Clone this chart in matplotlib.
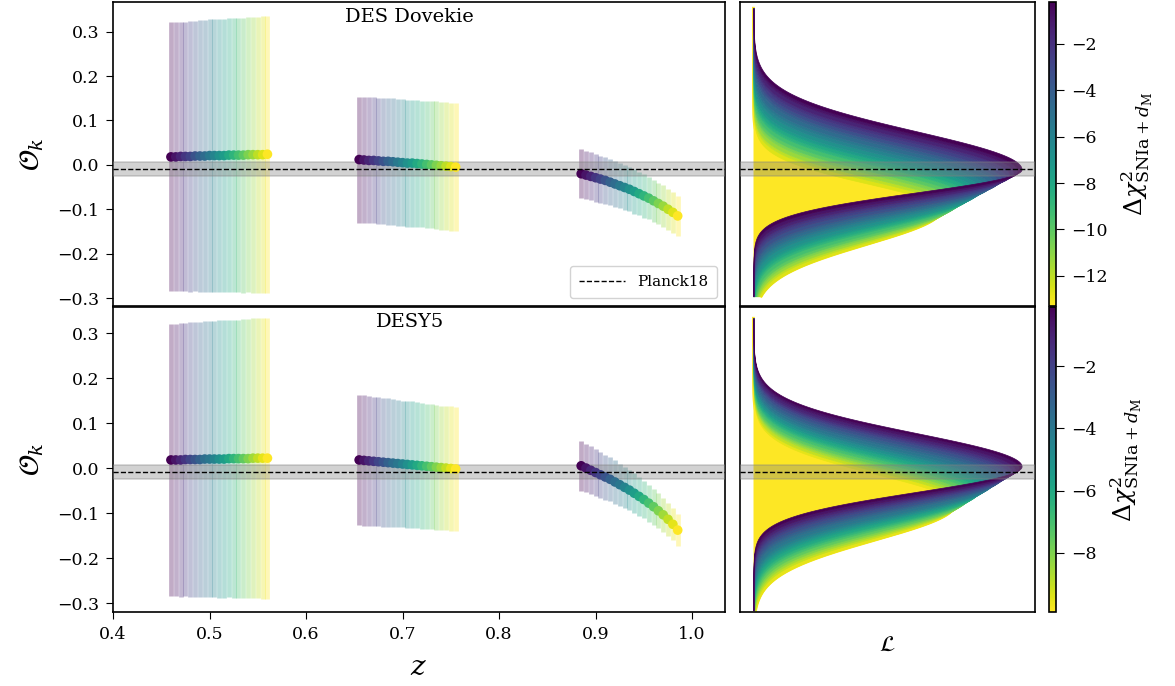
import numpy as np
import matplotlib.pyplot as plt
from matplotlib import colors as mcolors
from matplotlib.cm import ScalarMappable

plt.rcParams['font.family'] = 'DejaVu Serif'
plt.rcParams['mathtext.fontset'] = 'dejavuserif'

# ---- data ----
z_bins = [0.46, 0.655, 0.885]
shift = [0.000, 0.005, 0.010, 0.015, 0.020, 0.025, 0.030, 0.035, 0.040, 0.045, 0.050,
         0.055, 0.060, 0.065, 0.070, 0.075, 0.080, 0.085, 0.090, 0.095, 0.100]

# DES Dovekie
chi2_dov = [-0.2, -0.9, -1.5, -2.2, -2.8, -3.5, -4.2, -4.8, -5.5, -6.1, -6.8,
            -7.4, -8.1, -8.7, -9.4, -10.0, -10.7, -11.3, -12.0, -12.6, -13.3]
ok_dov_1 = [0.018, 0.018, 0.019, 0.019, 0.019, 0.020, 0.020, 0.020, 0.021, 0.021, 0.021,
            0.021, 0.022, 0.022, 0.022, 0.022, 0.023, 0.023, 0.023, 0.023, 0.024]
err_dov_1 = [0.303, 0.303, 0.304, 0.304, 0.305, 0.305, 0.306, 0.306, 0.307, 0.307, 0.308,
             0.308, 0.308, 0.309, 0.309, 0.310, 0.310, 0.311, 0.311, 0.312, 0.312]
ok_dov_2 = [0.012, 0.011, 0.010, 0.010, 0.009, 0.008, 0.008, 0.007, 0.006, 0.005, 0.004,
            0.004, 0.003, 0.002, 0.001, 0.000, -0.001, -0.002, -0.003, -0.004, -0.005]
err_dov_2 = [0.142, 0.142, 0.142, 0.142, 0.142, 0.142, 0.143, 0.143, 0.143, 0.143, 0.143,
             0.143, 0.143, 0.143, 0.143, 0.143, 0.144, 0.144, 0.144, 0.144, 0.144]
ok_dov_3 = [-0.020, -0.023, -0.026, -0.029, -0.032, -0.035, -0.039, -0.043, -0.047, -0.051, -0.055,
            -0.060, -0.065, -0.070, -0.075, -0.081, -0.087, -0.093, -0.100, -0.107, -0.115]
err_dov_3 = [0.055, 0.055, 0.054, 0.054, 0.053, 0.053, 0.052, 0.052, 0.051, 0.051, 0.050,
             0.050, 0.049, 0.049, 0.048, 0.048, 0.047, 0.047, 0.046, 0.046, 0.045]

# DESY5
chi2_y5 = [-0.1, -0.6, -1.1, -1.6, -2.1, -2.6, -3.1, -3.6, -4.0, -4.5, -5.0,
           -5.5, -6.0, -6.5, -7.0, -7.5, -8.0, -8.5, -9.0, -9.5, -9.9]
ok_y5_1 = [0.018, 0.018, 0.018, 0.019, 0.019, 0.019, 0.019, 0.020, 0.020, 0.020, 0.020,
           0.020, 0.021, 0.021, 0.021, 0.021, 0.021, 0.022, 0.022, 0.022, 0.022]
err_y5_1 = [0.303, 0.303, 0.304, 0.304, 0.305, 0.305, 0.306, 0.306, 0.307, 0.307, 0.308,
            0.308, 0.308, 0.309, 0.309, 0.310, 0.310, 0.311, 0.311, 0.312, 0.312]
ok_y5_2 = [0.018, 0.017, 0.016, 0.015, 0.014, 0.013, 0.012, 0.011, 0.010, 0.009, 0.008,
           0.007, 0.006, 0.005, 0.004, 0.003, 0.002, 0.001, 0.000, -0.001, -0.002]
err_y5_2 = [0.145, 0.145, 0.144, 0.144, 0.143, 0.143, 0.143, 0.142, 0.142, 0.141, 0.141,
            0.141, 0.140, 0.140, 0.139, 0.139, 0.139, 0.138, 0.138, 0.138, 0.137]
ok_y5_3 = [0.005, 0.000, -0.005, -0.010, -0.015, -0.020, -0.025, -0.031, -0.037, -0.043, -0.049,
           -0.056, -0.063, -0.070, -0.078, -0.086, -0.095, -0.104, -0.114, -0.125, -0.138]
err_y5_3 = [0.055, 0.054, 0.053, 0.052, 0.051, 0.050, 0.049, 0.048, 0.047, 0.046, 0.045,
            0.044, 0.043, 0.042, 0.041, 0.040, 0.039, 0.038, 0.037, 0.036, 0.035]

# likelihood shapes (peak position, height, upper / lower widths)
mu_dov = [-0.010, -0.015, -0.019, -0.024, -0.028, -0.033, -0.038, -0.042, -0.047, -0.051, -0.056,
          -0.061, -0.065, -0.070, -0.074, -0.079, -0.084, -0.088, -0.093, -0.097, -0.102]
amp_dov = [1.00, 0.985, 0.97, 0.955, 0.94, 0.925, 0.91, 0.895, 0.88, 0.865, 0.85,
           0.835, 0.82, 0.805, 0.79, 0.775, 0.76, 0.745, 0.73, 0.715, 0.70]
sup_dov = [0.086, 0.085, 0.084, 0.082, 0.081, 0.080, 0.079, 0.078, 0.076, 0.075, 0.074,
           0.072, 0.071, 0.070, 0.069, 0.067, 0.066, 0.065, 0.063, 0.062, 0.060]
sdn_dov = [0.052, 0.053, 0.055, 0.056, 0.057, 0.058, 0.060, 0.061, 0.062, 0.063, 0.064,
           0.066, 0.067, 0.068, 0.069, 0.071, 0.072, 0.073, 0.074, 0.075, 0.077]

mu_y5 = [0.004, 0.000, -0.005, -0.009, -0.013, -0.017, -0.022, -0.026, -0.030, -0.035, -0.039,
         -0.043, -0.047, -0.052, -0.056, -0.060, -0.065, -0.069, -0.073, -0.077, -0.082]
amp_y5 = [1.00, 0.99, 0.975, 0.963, 0.95, 0.938, 0.925, 0.913, 0.90, 0.888, 0.875,
          0.863, 0.85, 0.838, 0.825, 0.813, 0.80, 0.788, 0.775, 0.763, 0.75]
sup_y5 = [0.074, 0.074, 0.074, 0.073, 0.073, 0.073, 0.073, 0.072, 0.072, 0.072, 0.072,
          0.071, 0.071, 0.071, 0.071, 0.070, 0.070, 0.070, 0.070, 0.069, 0.069]
sdn_y5 = [0.057, 0.058, 0.059, 0.060, 0.061, 0.062, 0.063, 0.064, 0.065, 0.066, 0.067,
          0.068, 0.069, 0.070, 0.071, 0.072, 0.073, 0.074, 0.075, 0.076, 0.078]

planck_ok = -0.009
planck_width = 0.016

W, H = 1175, 686
fig = plt.figure(figsize=(W / 100, H / 100), dpi=100)


def px(x0, y0, x1, y1):
    return [x0 / W, 1 - y1 / H, (x1 - x0) / W, (y1 - y0) / H]


cmap = plt.get_cmap('viridis_r')


def draw_row(top, label, chi2, oks, errs, mus, amps, sups, sdns, ylim, grid_lim, cticks, show_x):
    y0, y1 = top
    axl = fig.add_axes(px(113, y0, 725, y1))
    axr = fig.add_axes(px(740, y0, 1035, y1), sharey=axl)
    cax = fig.add_axes(px(1049, y0, 1056, y1))
    norm = mcolors.Normalize(vmin=min(chi2), vmax=max(chi2))
    cols = cmap(norm(np.array(chi2)))

    for zb, ok, er in zip(z_bins, oks, errs):
        zz = [zb + s for s in shift]
        for j in range(len(zz)):
            axl.errorbar(zz[j], ok[j], yerr=er[j], fmt='none', ecolor=cols[j],
                         elinewidth=3.4, alpha=0.33, capsize=0, zorder=2)
        axl.scatter(zz, ok, c=cols, s=48, linewidths=0, zorder=6)

    for ax in (axl, axr):
        ax.axhspan(planck_ok - planck_width, planck_ok + planck_width, facecolor='gray',
                   edgecolor='gray', lw=1.2, alpha=0.35, zorder=4)
        ax.axhline(planck_ok, color='k', ls='--', lw=1.0, zorder=7, label='Planck18')

    # likelihoods: bands between consecutive curves, from lowest chi2 up
    omega = np.linspace(grid_lim[0], grid_lim[1], 900)
    n = len(mus)
    prev = np.zeros_like(omega)
    for k, i in enumerate(range(n - 1, -1, -1)):
        s = np.where(omega >= mus[i], sups[i], sdns[i])
        L = amps[i] * np.exp(-0.5 * ((omega - mus[i]) / s) ** 2)
        axr.fill_betweenx(omega, prev, L, facecolor=cols[i], edgecolor=cols[i],
                          lw=0.5, zorder=2 + k * 0.001)
        if k == 0:
            axr.plot(L, omega, color=cols[i], lw=2.0, zorder=2)
        prev = L

    axl.set_ylim(*ylim)
    axl.set_xlim(0.4, 1.034)
    axl.set_yticks([-0.3, -0.2, -0.1, 0.0, 0.1, 0.2, 0.3])
    axl.tick_params(labelsize=12.5, length=5, pad=5)
    axl.set_ylabel(r'$\mathcal{O}_k$', fontsize=20, labelpad=8)
    axl.text(0.485, 0.95, label, transform=axl.transAxes, ha='center', va='center',
             fontsize=14)
    if show_x:
        axl.set_xticks([0.4, 0.5, 0.6, 0.7, 0.8, 0.9, 1.0])
        axl.set_xlabel(r'$z$', fontsize=20, labelpad=8)
        axr.set_xlabel(r'$\mathcal{L}$', fontsize=16, labelpad=16)
    else:
        axl.tick_params(axis='x', bottom=False, labelbottom=False)

    axr.set_xlim(-0.05, 1.05)
    axr.tick_params(left=False, labelleft=False, bottom=False, labelbottom=False)

    cb = fig.colorbar(ScalarMappable(norm=norm, cmap=cmap), cax=cax)
    cb.set_ticks(cticks)
    cb.ax.tick_params(labelsize=12.5, length=6, pad=5)
    cb.set_label(r'$\Delta\chi^2_{\rm SNIa+\mathit{d}_{\rm M}}$', fontsize=18, labelpad=9)
    cb.outline.set_linewidth(1.2)

    for ax in (axl, axr):
        for sp in ax.spines.values():
            sp.set_linewidth(1.2)
    return axl


ax_top = draw_row((2, 306), 'DES Dovekie', chi2_dov,
                  [ok_dov_1, ok_dov_2, ok_dov_3], [err_dov_1, err_dov_2, err_dov_3],
                  mu_dov, amp_dov, sup_dov, sdn_dov,
                  (-0.318, 0.367), (-0.296, 0.353), [-2, -4, -6, -8, -10, -12], False)
ax_bot = draw_row((307, 612), 'DESY5', chi2_y5,
                  [ok_y5_1, ok_y5_2, ok_y5_3], [err_y5_1, err_y5_2, err_y5_3],
                  mu_y5, amp_y5, sup_y5, sdn_y5,
                  (-0.32, 0.358), (-0.316, 0.333), [-2, -4, -6, -8], True)

leg = ax_top.legend(loc='lower right', fontsize=11, framealpha=1,
                    edgecolor='lightgray', handlelength=3.0, borderpad=0.6)

fig.savefig('out.png', dpi=100)
